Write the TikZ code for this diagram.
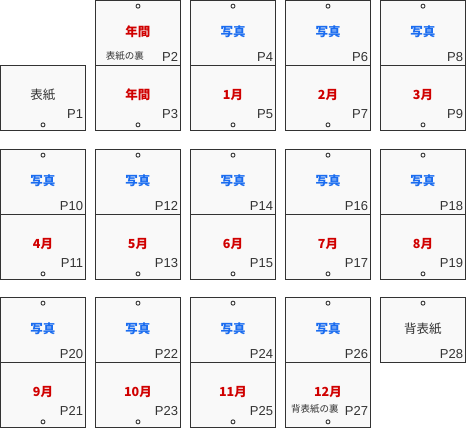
\documentclass[tikz,border=0pt]{standalone}
\usepackage{fontspec}
\setmainfont{Liberation Sans}
\newfontfamily\jpfont{Noto Sans CJK JP}
\usetikzlibrary{matrix,positioning}

\definecolor{photoblue}{HTML}{1A6CF0}
\definecolor{monthred}{HTML}{D00000}
\definecolor{pagefill}{HTML}{F9F9F9}
\definecolor{inkgray}{HTML}{333333}

\tikzset{
  page/.style={draw=inkgray, fill=pagefill, line width=1pt, minimum width=85pt, minimum height=65pt,
    inner sep=0pt, outer sep=0pt, anchor=center, text height=9pt},
  photo/.style={text=photoblue, font=\jpfont\bfseries\fontsize{12.5}{14}\selectfont},
  month/.style={text=monthred, font=\jpfont\bfseries\fontsize{12.5}{14}\selectfont},
  cover/.style={text=inkgray, font=\jpfont\fontsize{12.5}{14}\selectfont},
  pnum/.style={anchor=base east, inner sep=0pt, xshift=-2.5pt, text=inkgray,
    font=\normalfont\fontsize{13}{15}\selectfont},
  toppg/.style={page, text depth=2pt, label={[pnum, yshift=4.3pt]south east:P#1}},
  botpg/.style={page, text depth=6pt, label={[pnum, yshift=11.8pt]south east:P#1}},
  pgnote/.style 2 args={label={[anchor=center, inner sep=0pt, xshift=-13pt, yshift=#2, text=inkgray,
    font=\jpfont\fontsize{9.5}{11}\selectfont]south:#1}},
  hole/.style={circle, draw=inkgray, fill=white, line width=0.9pt, minimum size=4pt, inner sep=0pt}
}

\begin{document}
\begin{tikzpicture}
  \useasboundingbox (0,0) rectangle (466pt,-428pt);
  \matrix (m) [matrix of nodes, column sep=9pt, row sep=-1pt,
    inner sep=0pt, outer sep=0pt, anchor=north west] at (0pt,0pt)
  {
    & |[month, toppg=2, pgnote={表紙の裏}{9.5pt}]| 年間 & |[photo, toppg=4]| 写真
      & |[photo, toppg=6]| 写真 & |[photo, toppg=8]| 写真 \\
    |[cover, botpg=1]| 表紙 & |[month, botpg=3]| 年間 & |[month, botpg=5]| 1月
      & |[month, botpg=7]| 2月 & |[month, botpg=9]| 3月 \\[19pt]
    |[photo, toppg=10]| 写真 & |[photo, toppg=12]| 写真 & |[photo, toppg=14]| 写真
      & |[photo, toppg=16]| 写真 & |[photo, toppg=18]| 写真 \\
    |[month, botpg=11]| 4月 & |[month, botpg=13]| 5月 & |[month, botpg=15]| 6月
      & |[month, botpg=17]| 7月 & |[month, botpg=19]| 8月 \\[18pt]
    |[photo, toppg=20]| 写真 & |[photo, toppg=22]| 写真 & |[photo, toppg=24]| 写真
      & |[photo, toppg=26]| 写真 & |[cover, toppg=28]| 背表紙 \\
    |[month, botpg=21]| 9月 & |[month, botpg=23]| 10月 & |[month, botpg=25]| 11月
      & |[month, botpg=27, pgnote={背表紙の裏}{18.5pt}]| 12月 \\
  };
  \foreach \p in {1-2,1-3,1-4,1-5,3-1,3-2,3-3,3-4,3-5,5-1,5-2,5-3,5-4,5-5}
    \node[hole, below=3.2pt of m-\p.north] (h-\p) {};
  \foreach \p in {2-1,2-2,2-3,2-4,2-5,4-1,4-2,4-3,4-4,4-5,6-1,6-2,6-3,6-4}
    \node[hole, above=3.2pt of m-\p.south] (h-\p) {};
\end{tikzpicture}
\end{document}
